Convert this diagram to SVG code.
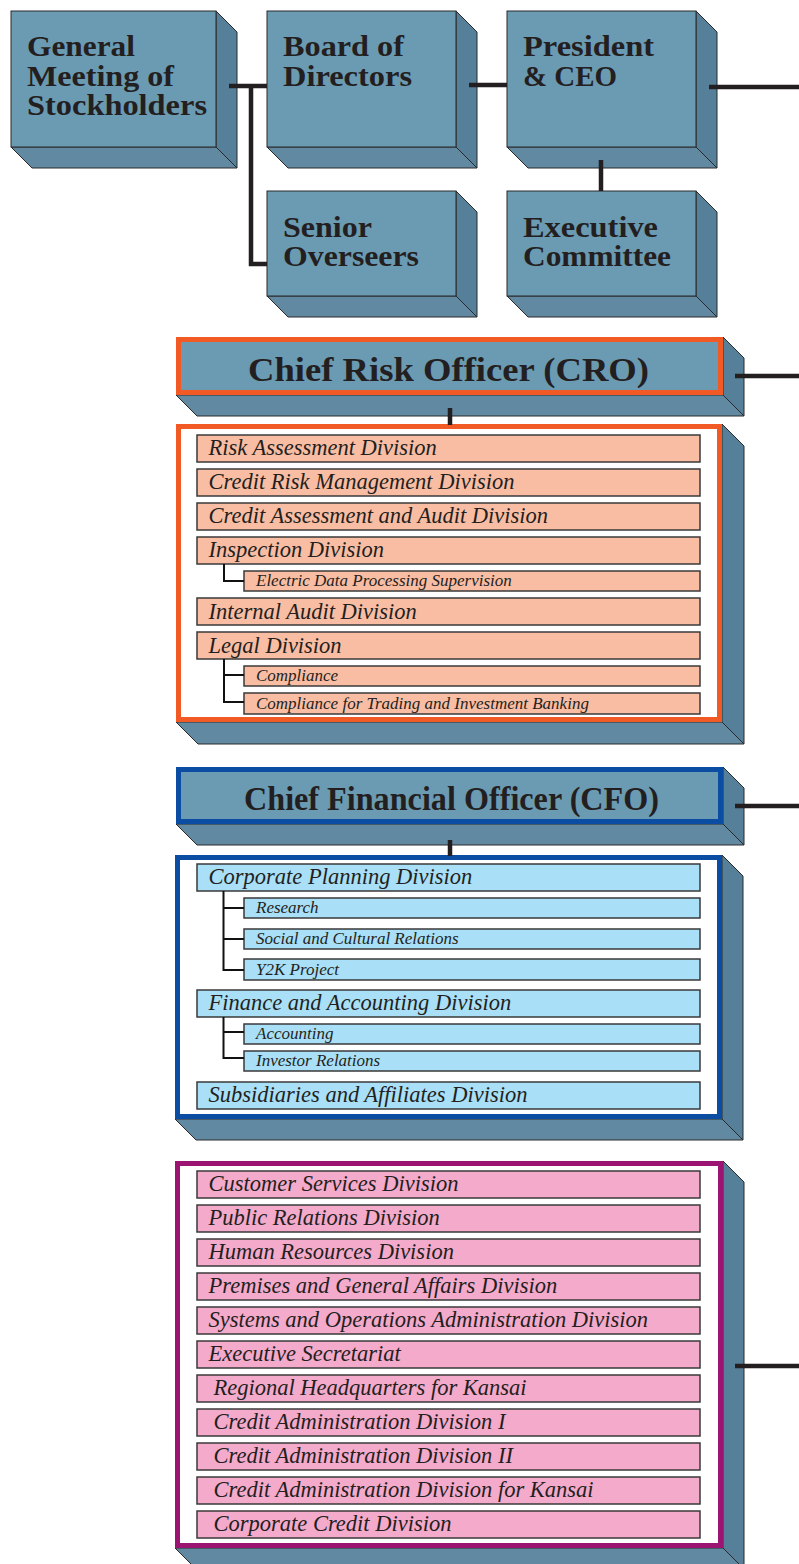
<svg xmlns="http://www.w3.org/2000/svg" width="799" height="1564" viewBox="0 0 799 1564">
<style>
.front{fill:#6b9ab3;stroke:#2a2a2a;stroke-width:1}
.side{fill:#56809a;stroke:#2a2a2a;stroke-width:1}
.bot{fill:#6189a2;stroke:#2a2a2a;stroke-width:1}
.big{font-family:"Liberation Serif",serif;font-weight:bold;font-size:29px;fill:#231f20}
.hdr{font-family:"Liberation Serif",serif;font-weight:bold;font-size:34px;fill:#231f20}
.it{font-family:"Liberation Serif",serif;font-style:italic;font-size:22.5px;fill:#231f20}
.sub{font-family:"Liberation Serif",serif;font-style:italic;font-size:17px;fill:#231f20}
.item{stroke:#3a3a3a;stroke-width:1.5}
.o{fill:#f9bda4}
.b{fill:#a9dff7}
.p{fill:#f4aacb}
.conn{stroke:#231f20;stroke-width:4.5;fill:none}
.br{stroke:#111;stroke-width:2;fill:none}
</style>

<g id="general-meeting">
<polygon class="side" points="216,11 237,32 237,168 216,147"/>
<polygon class="bot" points="11,147 216,147 237,168 32,168"/>
<rect class="front" x="11" y="11" width="205" height="136"/>
<text class="big" x="27" y="56" textLength="108" lengthAdjust="spacingAndGlyphs">General</text>
<text class="big" x="27" y="86" textLength="147" lengthAdjust="spacingAndGlyphs">Meeting of</text>
<text class="big" x="27" y="115" textLength="180" lengthAdjust="spacingAndGlyphs">Stockholders</text>
</g>

<g id="board">
<polygon class="side" points="456,11 477,32 477,168 456,147"/>
<polygon class="bot" points="267,147 456,147 477,168 288,168"/>
<rect class="front" x="267" y="11" width="189" height="136"/>
<text class="big" x="283" y="56" textLength="121" lengthAdjust="spacingAndGlyphs">Board of</text>
<text class="big" x="283" y="86" textLength="129" lengthAdjust="spacingAndGlyphs">Directors</text>
</g>

<g id="president">
<polygon class="side" points="696,11 717,32 717,168 696,147"/>
<polygon class="bot" points="507,147 696,147 717,168 528,168"/>
<rect class="front" x="507" y="11" width="189" height="136"/>
<text class="big" x="523" y="56" textLength="131" lengthAdjust="spacingAndGlyphs">President</text>
<text class="big" x="523" y="86" textLength="94" lengthAdjust="spacingAndGlyphs">&amp; CEO</text>
</g>

<g id="senior-overseers">
<polygon class="side" points="456,191 477,212 477,317 456,296"/>
<polygon class="bot" points="267,296 456,296 477,317 288,317"/>
<rect class="front" x="267" y="191" width="189" height="105"/>
<text class="big" x="283" y="237" textLength="89" lengthAdjust="spacingAndGlyphs">Senior</text>
<text class="big" x="283" y="266" textLength="136" lengthAdjust="spacingAndGlyphs">Overseers</text>
</g>

<g id="executive-committee">
<polygon class="side" points="696,191 717,212 717,317 696,296"/>
<polygon class="bot" points="507,296 696,296 717,317 528,317"/>
<rect class="front" x="507" y="191" width="189" height="105"/>
<text class="big" x="523" y="237" textLength="135" lengthAdjust="spacingAndGlyphs">Executive</text>
<text class="big" x="523" y="266" textLength="148" lengthAdjust="spacingAndGlyphs">Committee</text>
</g>

<g id="cro">
<polygon class="side" points="723,337 744,358 744,416 723,395"/>
<polygon class="bot" points="176,395 723,395 744,416 197,416"/>
<rect x="178.5" y="339.5" width="542" height="53" fill="#6b9ab3" stroke="#f15a24" stroke-width="5"/>
<text class="hdr" x="248" y="381" textLength="401" lengthAdjust="spacingAndGlyphs">Chief Risk Officer (CRO)</text>
</g>

<g id="cro-divisions">
<polygon class="side" points="722,424 744,446 744,744 722,722"/>
<polygon class="bot" points="176,722 722,722 744,744 198,744"/>
<rect x="178.5" y="426.5" width="541" height="293" fill="#fff" stroke="#f15a24" stroke-width="5"/>
<rect class="item o" x="197" y="435" width="503" height="27"/>
<text class="it" x="208.5" y="455">Risk Assessment Division</text>
<rect class="item o" x="197" y="469" width="503" height="27"/>
<text class="it" x="208.5" y="489">Credit Risk Management Division</text>
<rect class="item o" x="197" y="503" width="503" height="27"/>
<text class="it" x="208.5" y="523">Credit Assessment and Audit Division</text>
<rect class="item o" x="197" y="537" width="503" height="27"/>
<text class="it" x="208.5" y="557">Inspection Division</text>
<rect class="item o" x="244" y="571" width="456" height="20"/>
<text class="sub" x="256" y="586">Electric Data Processing Supervision</text>
<rect class="item o" x="197" y="598" width="503" height="27"/>
<text class="it" x="208.5" y="618.5">Internal Audit Division</text>
<rect class="item o" x="197" y="632" width="503" height="27"/>
<text class="it" x="208.5" y="652.5">Legal Division</text>
<rect class="item o" x="244" y="666" width="456" height="20"/>
<text class="sub" x="256" y="681">Compliance</text>
<rect class="item o" x="244" y="693" width="456" height="21"/>
<text class="sub" x="256" y="708.5">Compliance for Trading and Investment Banking</text>
</g>

<g id="cfo">
<polygon class="side" points="723,767 744,788 744,845 723,824"/>
<polygon class="bot" points="176,824 723,824 744,845 197,845"/>
<rect x="178.5" y="769.5" width="542" height="52" fill="#6b9ab3" stroke="#0b4da2" stroke-width="5"/>
<text class="hdr" x="244" y="810" textLength="415" lengthAdjust="spacingAndGlyphs">Chief Financial Officer (CFO)</text>
</g>

<g id="cfo-divisions">
<polygon class="side" points="722,855 743,876 743,1140 722,1119"/>
<polygon class="bot" points="175,1119 722,1119 743,1140 196,1140"/>
<rect x="177.5" y="857.5" width="542" height="259" fill="#fff" stroke="#0b4da2" stroke-width="5"/>
<rect class="item b" x="197" y="864" width="503" height="27"/>
<text class="it" x="208.5" y="884">Corporate Planning Division</text>
<rect class="item b" x="244" y="898" width="456" height="20"/>
<text class="sub" x="256" y="913">Research</text>
<rect class="item b" x="244" y="929" width="456" height="20"/>
<text class="sub" x="256" y="944">Social and Cultural Relations</text>
<rect class="item b" x="244" y="959" width="456" height="21"/>
<text class="sub" x="256" y="974.5">Y2K Project</text>
<rect class="item b" x="197" y="990" width="503" height="27"/>
<text class="it" x="208.5" y="1010">Finance and Accounting Division</text>
<rect class="item b" x="244" y="1024" width="456" height="20"/>
<text class="sub" x="256" y="1039">Accounting</text>
<rect class="item b" x="244" y="1051" width="456" height="20"/>
<text class="sub" x="256" y="1066">Investor Relations</text>
<rect class="item b" x="197" y="1082" width="503" height="27"/>
<text class="it" x="208.5" y="1102">Subsidiaries and Affiliates Division</text>
</g>

<g id="other-divisions">
<polygon class="side" points="723,1161 744,1182 744,1569 723,1548"/>
<polygon class="bot" points="175,1548 723,1548 744,1569 196,1569"/>
<rect x="177.5" y="1163.5" width="543" height="382" fill="#fff" stroke="#9c1472" stroke-width="5"/>
<rect class="item p" x="197" y="1171" width="503" height="27"/>
<text class="it" x="208.5" y="1191">Customer Services Division</text>
<rect class="item p" x="197" y="1205" width="503" height="27"/>
<text class="it" x="208.5" y="1225">Public Relations Division</text>
<rect class="item p" x="197" y="1239" width="503" height="27"/>
<text class="it" x="208.5" y="1259">Human Resources Division</text>
<rect class="item p" x="197" y="1273" width="503" height="27"/>
<text class="it" x="208.5" y="1293">Premises and General Affairs Division</text>
<rect class="item p" x="197" y="1307" width="503" height="27"/>
<text class="it" x="208.5" y="1327">Systems and Operations Administration Division</text>
<rect class="item p" x="197" y="1341" width="503" height="27"/>
<text class="it" x="208.5" y="1361">Executive Secretariat</text>
<rect class="item p" x="197" y="1375" width="503" height="27"/>
<text class="it" x="213.5" y="1395">Regional Headquarters for Kansai</text>
<rect class="item p" x="197" y="1409" width="503" height="27"/>
<text class="it" x="213.5" y="1429">Credit Administration Division I</text>
<rect class="item p" x="197" y="1443" width="503" height="27"/>
<text class="it" x="213.5" y="1463">Credit Administration Division II</text>
<rect class="item p" x="197" y="1477" width="503" height="27"/>
<text class="it" x="213.5" y="1497">Credit Administration Division for Kansai</text>
<rect class="item p" x="197" y="1511" width="503" height="27"/>
<text class="it" x="213.5" y="1531">Corporate Credit Division</text>
</g>

<g id="connectors">
<path class="conn" d="M229 86 H267"/>
<path class="conn" d="M251 86 V264 H267"/>
<path class="conn" d="M469 85 H507"/>
<path class="conn" d="M709 87 H799"/>
<path class="conn" d="M601 160 V191"/>
<path class="conn" d="M735 376 H799"/>
<path class="conn" d="M450 408 V425"/>
<path class="conn" d="M735 806 H799"/>
<path class="conn" d="M450 840 V856"/>
<path class="conn" d="M735 1366 H799"/>
<path class="br" d="M224 564 V581 H244"/>
<path class="br" d="M224 659 V702 H244 M224 675 H244"/>
<path class="br" d="M223.5 891 V970 H244 M223.5 908 H244 M223.5 939 H244"/>
<path class="br" d="M223.5 1017 V1058 H244 M223.5 1032 H244"/>
</g>
</svg>
